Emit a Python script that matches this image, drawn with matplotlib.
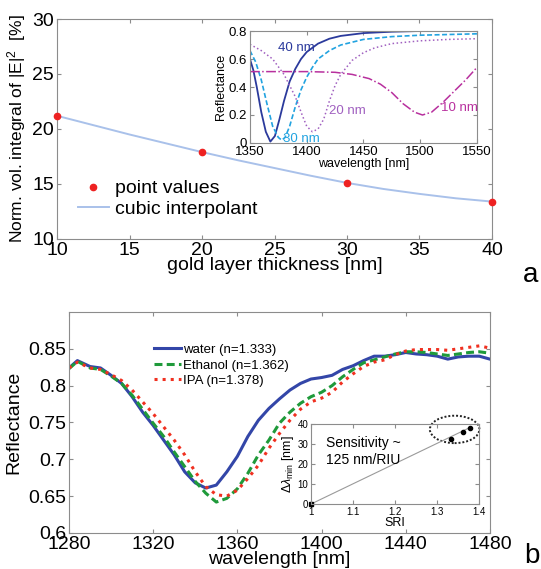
import numpy as np
import matplotlib
matplotlib.use("Agg")
import matplotlib.pyplot as plt
from matplotlib.patches import Ellipse

plt.rcParams['font.family'] = ['Liberation Sans', 'DejaVu Sans']
plt.rcParams['mathtext.fontset'] = 'custom'
plt.rcParams['mathtext.rm'] = 'Liberation Sans'
plt.rcParams['mathtext.it'] = 'Liberation Sans:italic'

# ---------------- panel a data ----------------
thickness = [10, 20, 30, 40]
point_values = [21.2, 17.9, 15.1, 13.4]
interp_x = [10, 12.5, 15, 17.5, 20, 22.5, 25, 27.5, 30, 32.5, 35, 37.5, 40]
interp_y = [21.2, 20.35, 19.5, 18.7, 17.9, 17.15, 16.45, 15.75, 15.1, 14.55, 14.1, 13.7, 13.4]

wl_40 = [1350, 1353, 1356, 1360, 1364, 1368, 1372, 1376, 1380, 1385, 1390, 1395, 1400, 1410, 1420, 1430, 1450, 1475, 1500, 1550]
R_40 = [0.60, 0.52, 0.40, 0.22, 0.08, 0.01, 0.05, 0.17, 0.30, 0.44, 0.53, 0.60, 0.65, 0.71, 0.745, 0.765, 0.785, 0.795, 0.80, 0.80]
wl_30 = [1350, 1355, 1360, 1365, 1370, 1375, 1378, 1381, 1385, 1390, 1395, 1400, 1405, 1410, 1420, 1430, 1450, 1475, 1500, 1550]
R_30 = [0.66, 0.58, 0.45, 0.28, 0.12, 0.04, 0.02, 0.04, 0.12, 0.26, 0.38, 0.47, 0.54, 0.60, 0.66, 0.70, 0.74, 0.76, 0.77, 0.78]
wl_20 = [1350, 1360, 1370, 1380, 1390, 1396, 1400, 1405, 1410, 1415, 1420, 1425, 1430, 1440, 1450, 1460, 1475, 1500, 1525, 1550]
R_20 = [0.705, 0.66, 0.60, 0.49, 0.33, 0.20, 0.12, 0.08, 0.10, 0.17, 0.30, 0.41, 0.49, 0.59, 0.645, 0.68, 0.71, 0.73, 0.74, 0.745]
wl_10 = [1350, 1400, 1425, 1440, 1455, 1465, 1475, 1485, 1495, 1502, 1510, 1520, 1530, 1540, 1550]
R_10 = [0.51, 0.51, 0.505, 0.49, 0.46, 0.42, 0.36, 0.28, 0.22, 0.20, 0.22, 0.29, 0.37, 0.45, 0.54]

# ---------------- panel b data ----------------
wl_b = [1280, 1284, 1290, 1295, 1300, 1305, 1310, 1315, 1320, 1325, 1330, 1335, 1340, 1345, 1350,
        1355, 1360, 1365, 1370, 1375, 1380, 1385, 1390, 1395, 1400, 1405, 1410, 1415, 1420, 1425,
        1430, 1435, 1440, 1445, 1450, 1455, 1460, 1465, 1470, 1475, 1480]
R_water = [0.824, 0.834, 0.826, 0.824, 0.814, 0.803, 0.785, 0.764, 0.746, 0.726, 0.706, 0.683, 0.668, 0.661, 0.665,
           0.683, 0.704, 0.731, 0.753, 0.769, 0.782, 0.794, 0.803, 0.809, 0.811, 0.814, 0.822, 0.827, 0.834, 0.840,
           0.840, 0.842, 0.845, 0.843, 0.842, 0.840, 0.836, 0.839, 0.840, 0.840, 0.836]
R_ethanol = [0.823, 0.833, 0.824, 0.822, 0.813, 0.803, 0.787, 0.768, 0.749, 0.731, 0.710, 0.690, 0.670, 0.654, 0.642,
             0.647, 0.660, 0.681, 0.706, 0.726, 0.749, 0.764, 0.776, 0.785, 0.791, 0.800, 0.812, 0.822, 0.831, 0.835,
             0.839, 0.843, 0.846, 0.846, 0.845, 0.843, 0.841, 0.843, 0.845, 0.846, 0.844]
R_ipa = [0.824, 0.832, 0.824, 0.822, 0.815, 0.807, 0.794, 0.778, 0.762, 0.744, 0.726, 0.706, 0.683, 0.663, 0.652,
         0.650, 0.658, 0.674, 0.692, 0.715, 0.735, 0.753, 0.768, 0.778, 0.783, 0.791, 0.805, 0.816, 0.826, 0.832,
         0.835, 0.842, 0.847, 0.849, 0.849, 0.849, 0.848, 0.850, 0.852, 0.854, 0.851]

sri = [1.0, 1.333, 1.362, 1.378]
dlam = [0.0, 32.6, 36.2, 38.2]

# ---------------- figure ----------------
fig = plt.figure(figsize=(5.41, 5.69), dpi=100)
spine_col = '#8c8c8c'

def style(ax, size):
    for s in ax.spines.values():
        s.set_color(spine_col)
        s.set_linewidth(0.8)
    ax.tick_params(direction='in', top=True, right=True, labelsize=size,
                   color=spine_col, length=3, pad=2)

# panel a
axa = fig.add_axes([0.1054, 0.580, 0.804, 0.3866])
axa.plot(interp_x, interp_y, color='#a9c1ea', lw=1.4, label='cubic interpolant', zorder=2)
axa.plot(thickness, point_values, 'o', color='#ee2222', ms=4.5, label='point values',
         clip_on=False, zorder=3)
axa.set_xlim(10, 40)
axa.set_ylim(10, 30)
axa.set_xticks(range(10, 41, 5))
axa.set_yticks(range(10, 31, 5))
style(axa, 14)
axa.set_xlabel('gold layer thickness [nm]', fontsize=14, labelpad=-1)
axa.set_ylabel(r'Norm. vol. integral of |E|$^2$  [%]', fontsize=12.5, labelpad=3)
h, l = axa.get_legend_handles_labels()
axa.legend([h[1], h[0]], [l[1], l[0]], loc='lower left', bbox_to_anchor=(0.03, 0.06),
           frameon=False, fontsize=14, handlelength=1.6, handletextpad=0.3,
           labelspacing=0.15, borderaxespad=0)

# inset a
ia = fig.add_axes([0.462, 0.7487, 0.4196, 0.1968])
ia.plot(wl_40, R_40, '-', color='#2b3a9c', lw=1.3)
ia.plot(wl_30, R_30, '--', color='#22a3e0', lw=1.2, dashes=(3, 1.5))
ia.plot(wl_20, R_20, ':', color='#a060c0', lw=1.1)
ia.plot(wl_10, R_10, '-.', color='#b8309e', lw=1.1)
ia.set_xlim(1350, 1550)
ia.set_ylim(0, 0.8)
ia.set_xticks(range(1350, 1551, 50))
ia.set_yticks([0, 0.2, 0.4, 0.6, 0.8])
ia.set_yticklabels(['0', '0.2', '0.4', '0.6', '0.8'])
style(ia, 9.5)
ia.set_xlabel('wavelength [nm]', fontsize=9, labelpad=0)
ia.set_ylabel('Reflectance', fontsize=9, labelpad=1)
ia.text(1375, 0.66, '40 nm', color='#2b3a9c', fontsize=9.5)
ia.text(1379, 0.01, '30 nm', color='#22a3e0', fontsize=9.5)
ia.text(1420, 0.21, '20 nm', color='#a060c0', fontsize=9.5)
ia.text(1518, 0.23, '10 nm', color='#b8309e', fontsize=9.5)
fig.text(0.98, 0.517, 'a', fontsize=20, ha='center', va='center')

# panel b
axb = fig.add_axes([0.1275, 0.0633, 0.778, 0.3884])
axb.plot(wl_b, R_water, '-', color='#3346a8', lw=2.2, label='water (n=1.333)')
axb.plot(wl_b, R_ethanol, '--', color='#1f9a3a', lw=2.2, dashes=(2.6, 1.4), label='Ethanol (n=1.362)')
axb.plot(wl_b, R_ipa, ':', color='#f03020', lw=2.2, label='IPA (n=1.378)')
axb.set_xlim(1280, 1480)
axb.set_ylim(0.6, 0.9)
axb.set_xticks(range(1280, 1481, 40))
axb.set_yticks([0.6, 0.65, 0.7, 0.75, 0.8, 0.85])
axb.set_yticklabels(['0.6', '0.65', '0.7', '0.75', '0.8', '0.85'])
style(axb, 14)
axb.set_xlabel('wavelength [nm]', fontsize=14, labelpad=-1)
axb.set_ylabel('Reflectance', fontsize=14, labelpad=4)
axb.legend(loc='upper left', bbox_to_anchor=(0.19, 0.88), frameon=False, fontsize=9.5,
           handlelength=2.0, handletextpad=0.2, labelspacing=0.25, borderaxespad=0)

# inset b
ib = fig.add_axes([0.5749, 0.1142, 0.3105, 0.1406])
ib.plot([sri[0], sri[-1]], [dlam[0], dlam[-1]], '-', color='#9a9a9a', lw=0.8)
ib.plot(sri[:1], dlam[:1], 's', color='black', ms=3, clip_on=False)
ib.plot(sri[1:], dlam[1:], 'o', color='black', ms=3)
ib.add_patch(Ellipse((1.342, 37.3), 0.118, 13.7, fill=False, ls=(0, (1, 1)), lw=1.4,
                     color='#222222', clip_on=False))
ib.set_xlim(1.0, 1.4)
ib.set_ylim(0, 40)
ib.set_xticks([1.0, 1.1, 1.2, 1.3, 1.4])
ib.set_xticklabels(['1', '1.1', '1.2', '1.3', '1.4'])
ib.set_yticks([0, 10, 20, 30, 40])
style(ib, 7)
ib.set_xlabel('SRI', fontsize=9, labelpad=0)
ib.set_ylabel(r'$\Delta\lambda_{\rm min}$ [nm]', fontsize=9, labelpad=1)
ib.text(1.035, 34, 'Sensitivity ~\n125 nm/RIU', fontsize=10, va='top', linespacing=1.3)
fig.text(0.983, 0.023, 'b', fontsize=20, ha='center', va='center')

fig.savefig('out.png', dpi=100)
